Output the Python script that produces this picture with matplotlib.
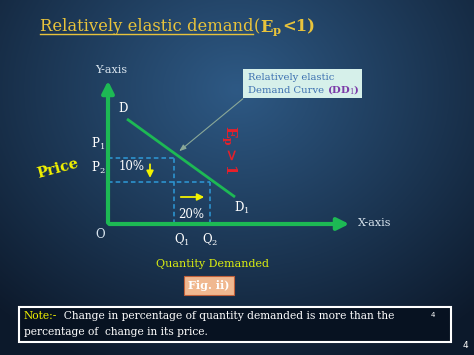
import numpy as np
import matplotlib.pyplot as plt

plt.rcParams["mathtext.fontset"] = "dejavuserif"

# dados do diagrama (origem O = (0, 0))
demanda_x = [19, 127]      # D -> D1
demanda_y = [105, 27]
precos = [66.5, 42.3]      # P1, P2
quantidades = [66, 102]    # Q1, Q2
rotulos_preco = ["P$_1$", "P$_2$"]
rotulos_qtd = ["Q$_1$", "Q$_2$"]
var_preco = "10%"
var_qtd = "20%"

fig = plt.figure(figsize=(4.74, 3.55), dpi=100)
ax = fig.add_axes([0, 0, 1, 1])
ax.set_xlim(-108, 366)
ax.set_ylim(-131, 224)
ax.axis("off")
renderer = fig.canvas.get_renderer()

serif = "DejaVu Serif"
verde = "#1db954"
azul = "#2e9ad8"
amarelo = "#f2f200"


def texto_seq(x, y, partes, **kw):
    # escreve pedaços de texto um depois do outro na mesma linha
    for s, extra in partes:
        props = dict(kw)
        props.update(extra)
        t = ax.text(x, y, s, **props)
        bb = t.get_window_extent(renderer)
        x = ax.transData.inverted().transform((bb.x1, bb.y0))[0]
    return x


# fundo azul escuro com centro mais claro
gx, gy = np.meshgrid(np.linspace(-1, 1, 300), np.linspace(-1, 1, 220))
r = np.sqrt((gx * 0.9) ** 2 + ((gy - 0.5) * 0.8) ** 2)
c0 = np.array([0.18, 0.35, 0.52])
c1 = np.array([0.05, 0.10, 0.17])
t = np.clip(r / 1.35, 0, 1)[..., None]
img = c0 * (1 - t) + c1 * t
ax.imshow(img, extent=[-108, 366, -131, 224], origin="lower", aspect="auto", zorder=0)

# título
tit = dict(color="#e8c33c", fontsize=11.8, family=serif, va="baseline")
x_fim = texto_seq(-68, 193, [("Relatively elastic demand", {})], **tit)
ax.plot([-68, x_fim], [190, 190], color="#e8c33c", lw=1)
texto_seq(x_fim, 193, [("(", {}), (r"$\mathbf{E_p}$", {}), ("<1)", {"fontweight": "bold"})], **tit)

# eixos
ax.annotate("", xy=(0, 146), xytext=(0, -1.5),
            arrowprops=dict(arrowstyle="-|>,head_width=0.35,head_length=0.7", color=verde, lw=3))
ax.annotate("", xy=(244, 0), xytext=(-1.5, 0),
            arrowprops=dict(arrowstyle="-|>,head_width=0.35,head_length=0.7", color=verde, lw=3))
ax.text(-13, 154, "Y-axis", color="#d8e4ee", fontsize=8, family=serif, va="center")
ax.text(250, 1, "X-axis", color="#d8e4ee", fontsize=8, family=serif, va="center")
ax.text(-8, -11, "O", color="#d8e4ee", fontsize=8.5, family=serif, ha="center", va="center")

# curva de demanda
ax.plot(demanda_x, demanda_y, color=verde, lw=2, solid_capstyle="butt", zorder=3)
ax.text(15, 116, "D", color="white", fontsize=8.5, family=serif, ha="center", va="center")
ax.text(134, 16, "D$_1$", color="white", fontsize=8.5, family=serif, ha="center", va="center")

# linhas tracejadas
for p, q in zip(precos, quantidades):
    ax.plot([0, q], [p, p], color=azul, lw=1.1, ls=(0, (3, 2)), zorder=2)
    ax.plot([q, q], [0, p], color=azul, lw=1.1, ls=(0, (3, 2)), zorder=2)
for p, lab in zip(precos, rotulos_preco):
    ax.text(-10, p + 14, lab, color="white", fontsize=8.5, family=serif, ha="center", va="center")
for q, lab in zip(quantidades, rotulos_qtd):
    ax.text(q + 8 if q == quantidades[0] else q, -16, lab, color="white", fontsize=8.5,
            family=serif, ha="center", va="center")

ax.text(24, 57, var_preco, color="white", fontsize=8.5, family=serif, ha="center", va="center")
ax.text(83, 9, var_qtd, color="white", fontsize=8.5, family=serif, ha="center", va="center")
ax.annotate("", xy=(42, precos[1] + 1), xytext=(42, precos[0] - 4),
            arrowprops=dict(arrowstyle="-|>,head_width=0.2,head_length=0.4", color=amarelo, lw=1.3))
ax.annotate("", xy=(99, 27), xytext=(70, 27),
            arrowprops=dict(arrowstyle="-|>,head_width=0.2,head_length=0.4", color=amarelo, lw=1.3))

# E_p > 1 vertical
ax.text(121, 74, r"$\mathbf{E_p>1}$", color="#e8202a", fontsize=11, family=serif,
        rotation=-90, ha="center", va="center")

# Price
ax.text(-50, 55, "Price", color=amarelo, fontsize=10.5, family=serif, fontweight="bold",
        rotation=15, ha="center", va="center")

# caixa explicativa
ax.add_patch(plt.Rectangle((135, 126), 119, 29, facecolor="#d6f0ea", edgecolor="none", zorder=4))
ax.annotate("", xy=(69, 71), xytext=(137, 127),
            arrowprops=dict(arrowstyle="-|>,head_width=0.15,head_length=0.4", color="#8aa898", lw=0.8))
caixa = dict(color="#3b6fb0", fontsize=7.2, family=serif, va="baseline", zorder=5)
texto_seq(140, 144, [("Relatively elastic", {})], **caixa)
texto_seq(140, 131, [("Demand Curve ", {}),
                     ("(DD$_1$)", {"color": "#7b3aa8", "fontweight": "bold"})], **caixa)

# rodapé
ax.text(104, -40, "Quantity Demanded", color="#dcef10", fontsize=8, family=serif,
        ha="center", va="center")
ax.add_patch(plt.Rectangle((76, -71), 50, 19, facecolor="#f0b890", edgecolor="#c0603a", lw=0.8))
ax.text(101, -61.5, "Fig. ii)", color="white", fontsize=8, family=serif, fontweight="bold",
        ha="center", va="center")

ax.add_patch(plt.Rectangle((-89, -118), 432, 35, facecolor="#071221", edgecolor="white", lw=1.5))
nota = dict(fontsize=7.7, family=serif, va="baseline", color="white")
texto_seq(-84, -95, [("Note:-", {"color": amarelo}),
                     ("  Change in percentage of quantity demanded is more than the", {})], **nota)
ax.text(-84, -111, "percentage of  change in its price.", **nota)
ax.text(325, -91, "4", color="white", fontsize=5, ha="center", va="center")
ax.text(357, -121, "4", color="white", fontsize=6.5, ha="center", va="center")

fig.savefig("out.png", dpi=100)
